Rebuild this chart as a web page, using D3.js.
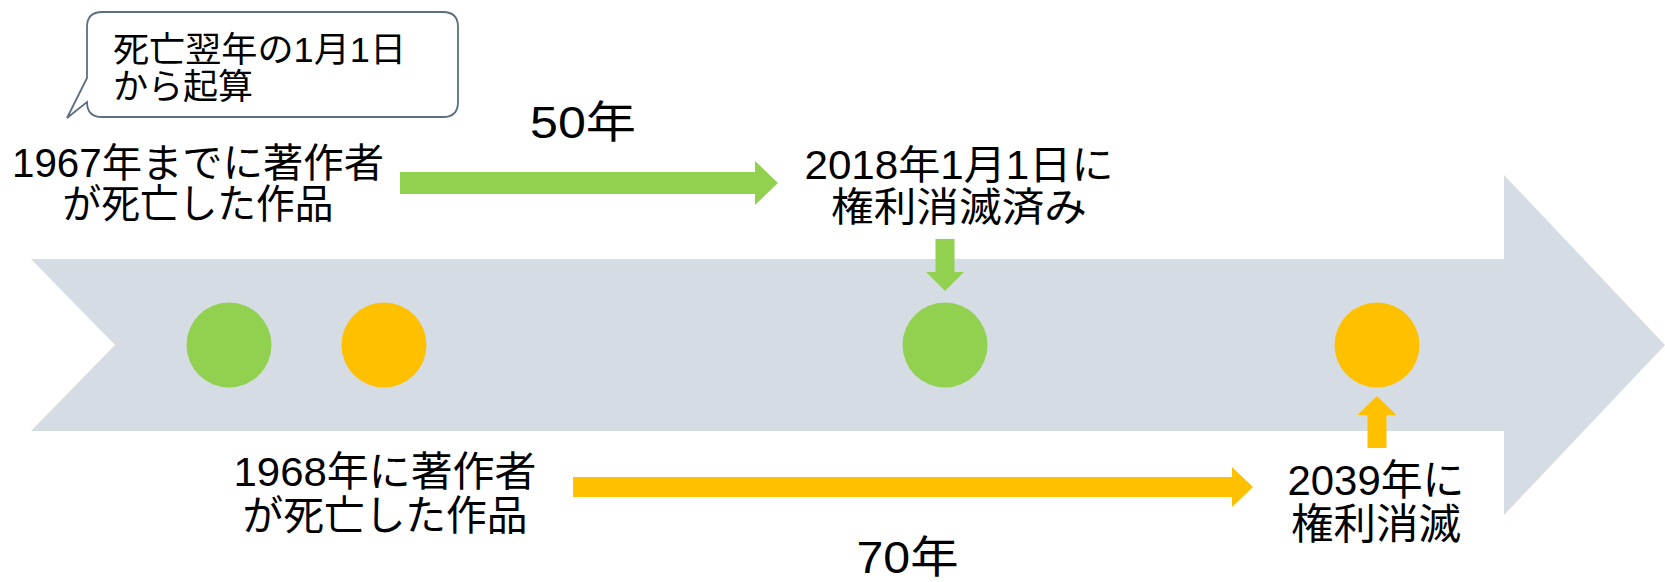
<!DOCTYPE html>
<html>
<head>
<meta charset="utf-8">
<script src="https://cdn.jsdelivr.net/npm/d3@7"></script>
<style>
  html, body { margin: 0; padding: 0; background: #ffffff; }
  svg { display: block; }
  text { font-family: "Liberation Sans", "Noto Sans CJK JP", sans-serif; fill: #000; }
</style>
</head>
<body>
<svg id="chart" width="1665" height="582"></svg>
<script>
// ---- data ----
const events = ["death1967", "death1968", "expire2018", "expire2039"];
const eventYears = [1967, 1968, 2018, 2039];
const eventGroups = ["50", "70", "50", "70"];
const durations = [50, 70];
const durationLabels = ["50年", "70年"];
const startLabels = [["1967年までに著作者", "が死亡した作品"], ["1968年に著作者", "が死亡した作品"]];
const endLabels = [["2018年1月1日に", "権利消滅済み"], ["2039年に", "権利消滅"]];
const calloutLines = ["死亡翌年の1月1日", "から起算"];

// ---- layout ----
const svg = d3.select("#chart");
const colors = d3.scaleOrdinal().domain(["50", "70"]).range(["#92D050", "#FFC000"]);
const xPos = d3.scaleOrdinal().domain(events).range([229, 384, 945, 1377]);
const cy = 345, r = 42.5;

// big timeline arrow
const band = { top: 259, bottom: 431, left: 31, notch: 115, headX: 1504, headTop: 175, headBottom: 515, tip: 1665 };
svg.append("path")
  .attr("d", d3.line()([
    [band.left, band.top], [band.headX, band.top], [band.headX, band.headTop],
    [band.tip, cy], [band.headX, band.headBottom], [band.headX, band.bottom],
    [band.left, band.bottom], [band.notch, cy]
  ]) + "Z")
  .attr("fill", "#D6DCE4");

// circles
svg.selectAll("circle.ev").data(events).join("circle")
  .attr("class", "ev")
  .attr("cx", d => xPos(d)).attr("cy", cy).attr("r", r)
  .attr("fill", (d, i) => colors(eventGroups[i]));

// block arrow helpers
function hArrow(x0, x1, yc, shaftH, headH, headL, color) {
  const xb = x1 - headL;
  svg.append("path").attr("fill", color).attr("d", d3.line()([
    [x0, yc - shaftH / 2], [xb, yc - shaftH / 2], [xb, yc - headH / 2], [x1, yc],
    [xb, yc + headH / 2], [xb, yc + shaftH / 2], [x0, yc + shaftH / 2]
  ]) + "Z");
}
function vArrow(xc, y0, y1, shaftW, headW, headL, color) {
  const dir = y1 > y0 ? 1 : -1;
  const yb = y1 - dir * headL;
  svg.append("path").attr("fill", color).attr("d", d3.line()([
    [xc - shaftW / 2, y0], [xc - shaftW / 2, yb], [xc - headW / 2, yb], [xc, y1],
    [xc + headW / 2, yb], [xc + shaftW / 2, yb], [xc + shaftW / 2, y0]
  ]) + "Z");
}
hArrow(400, 778, 183, 22, 44, 23, colors("50"));
hArrow(573, 1253, 487, 20, 40, 21, colors("70"));
vArrow(xPos("expire2018"), 239, 291, 19, 38, 19, colors("50"));
vArrow(xPos("expire2039"), 448, 396, 19, 39, 19, colors("70"));

// text helper: one text element per label, one tspan per line
function label(lines, cx, baselines, size, lengths, anchor) {
  const t = svg.append("text")
    .attr("text-anchor", anchor || "middle")
    .attr("font-size", size);
  lines.forEach((s, i) => {
    t.append("tspan")
      .attr("x", cx).attr("y", baselines[i])
      .attr("textLength", lengths[i])
      .attr("lengthAdjust", "spacingAndGlyphs")
      .text(s);
  });
}

label(startLabels[0], 198, [177, 218], 40, [372, 271]);
label(startLabels[1], 385, [486, 530], 41, [303, 285]);
label(endLabels[0], 959, [179, 221], 40, [309, 256]);
label(endLabels[1], 1376, [495, 539], 42, [177, 170]);
label([durationLabels[0]], 583, [138], 44, [106]);
label([durationLabels[1]], 907.5, [573], 44, [102]);

// callout
const box = { x0: 87, x1: 458, y0: 12, y1: 117, rr: 15 };
const p = d3.path();
p.moveTo(box.x0 + box.rr, box.y0);
p.lineTo(box.x1 - box.rr, box.y0);
p.quadraticCurveTo(box.x1, box.y0, box.x1, box.y0 + box.rr);
p.lineTo(box.x1, box.y1 - box.rr);
p.quadraticCurveTo(box.x1, box.y1, box.x1 - box.rr, box.y1);
p.lineTo(box.x0 + box.rr, box.y1);
p.quadraticCurveTo(box.x0, box.y1, box.x0, box.y1 - box.rr);
p.lineTo(box.x0, box.y1 - 15);
p.lineTo(67, 118);
p.lineTo(box.x0, 78);
p.lineTo(box.x0, box.y0 + box.rr);
p.quadraticCurveTo(box.x0, box.y0, box.x0 + box.rr, box.y0);
p.closePath();
svg.append("path").attr("d", p.toString())
  .attr("fill", "#fff").attr("stroke", "#5B6E84").attr("stroke-width", 1.8);
label(calloutLines, 113, [62, 99], 35, [293, 140], "start");
</script>
</body>
</html>
